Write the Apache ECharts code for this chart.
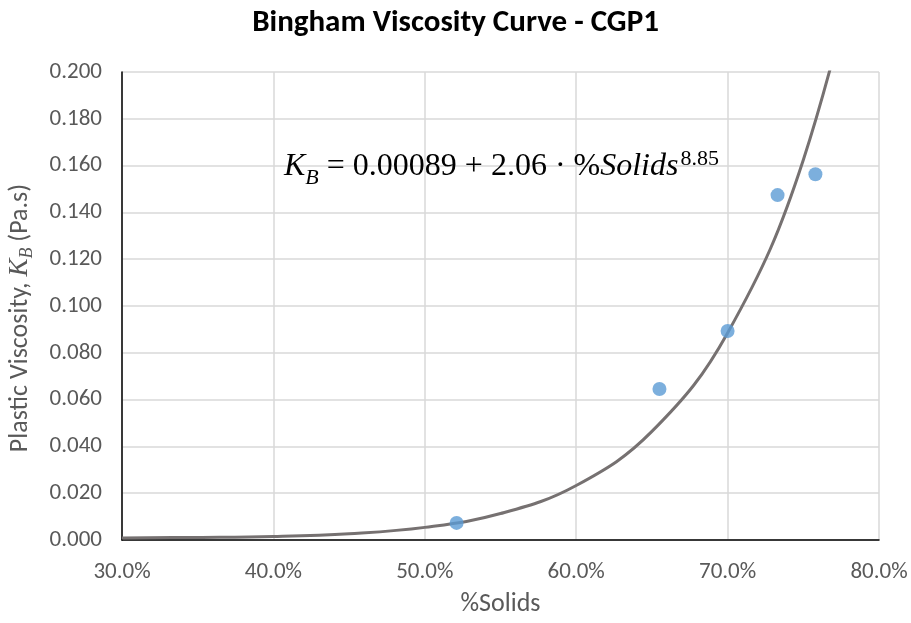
<!DOCTYPE html>
<html>
<head>
<meta charset="utf-8">
<script src="https://cdn.jsdelivr.net/npm/echarts@6/dist/echarts.min.js"></script>
<style>
  html, body { margin: 0; padding: 0; background: #ffffff; }
  #chart { width: 911px; height: 623px; }
</style>
</head>
<body>
<div id="chart"></div>
<script>
// Measured plastic viscosity against solids concentration
const sampleSolids = [52.1, 65.5, 70.0, 73.3, 75.8];
const sampleViscosity = [0.0073, 0.0645, 0.0893, 0.1474, 0.1563];

// Fitted power-law curve, read at 5% steps
const fitSolids = [30, 35, 40, 45, 50, 55, 60, 65, 70, 75, 80];
const fitViscosity = [0.0009, 0.0011, 0.0015, 0.0027, 0.0054, 0.0113, 0.0233, 0.0464, 0.0885, 0.1624, 0.287];

// Axis ranges and ticks
const xTicks = { min: 30, max: 80, interval: 10 };
const yTicks = { min: 0, max: 0.2, interval: 0.02 };

const uiFont = 'Carlito, Lato, "Open Sans", sans-serif';
const mathFont = '"Liberation Serif", "DejaVu Serif", serif';
const axisGrey = '#595959';

const chart = echarts.init(document.getElementById('chart'), null, { renderer: 'canvas' });

chart.setOption({
  backgroundColor: '#ffffff',
  animation: false,
  title: {
    text: 'Bingham Viscosity Curve - CGP1',
    left: 'center',
    top: 3,
    textStyle: { fontFamily: uiFont, fontWeight: 'bold', fontSize: 31, color: '#000000' }
  },
  grid: { left: 122, right: 32, top: 72, bottom: 83, containLabel: false, outerBoundsMode: 'none' },
  xAxis: {
    type: 'value',
    min: xTicks.min, max: xTicks.max, interval: xTicks.interval,
    name: '%Solids',
    nameLocation: 'middle',
    nameGap: 51,
    nameTextStyle: { fontFamily: uiFont, fontSize: 26, color: axisGrey },
    axisLine: { show: true, onZero: false, lineStyle: { color: '#000000', width: 1.5 } },
    axisTick: { show: false },
    axisLabel: {
      fontFamily: uiFont, fontSize: 23, color: axisGrey, margin: 21,
      formatter: v => v.toFixed(1) + '%'
    },
    splitLine: { show: true, lineStyle: { color: '#d9d9d9', width: 1.5 } }
  },
  yAxis: {
    type: 'value',
    min: yTicks.min, max: yTicks.max, interval: yTicks.interval,
    name: '{t|Plastic Viscosity, }{i|K}{s|B}{t| (Pa.s)}',
    nameLocation: 'middle',
    nameGap: 86,
    nameTextStyle: {
      fontFamily: uiFont, fontSize: 26, color: axisGrey,
      padding: [0, 24, 0, 0],
      rich: {
        t: { fontFamily: uiFont, fontSize: 26, color: axisGrey },
        i: { fontFamily: mathFont, fontStyle: 'italic', fontSize: 27, color: axisGrey },
        s: { fontFamily: mathFont, fontStyle: 'italic', fontSize: 18, color: axisGrey, padding: [14, 0, 0, 0] }
      }
    },
    axisLine: { show: true, lineStyle: { color: '#000000', width: 1.5 } },
    axisTick: { show: false },
    axisLabel: {
      fontFamily: uiFont, fontSize: 23, color: axisGrey, margin: 20,
      formatter: v => v.toFixed(3)
    },
    splitLine: { show: true, lineStyle: { color: '#d9d9d9', width: 1.5 } }
  },
  graphic: [{
    type: 'text',
    left: 284,
    top: 148,
    z: 10,
    style: {
      text: '{i|K}{s|B}{r| = 0.00089 + 2.06 · %}{i|Solids}{p|8.85}',
      fill: '#000000',
      rich: {
        i: { fontFamily: mathFont, fontStyle: 'italic', fontSize: 32, fill: '#000000' },
        r: { fontFamily: mathFont, fontSize: 32, fill: '#000000' },
        s: { fontFamily: mathFont, fontStyle: 'italic', fontSize: 22, fill: '#000000', padding: [23, 0, 0, 0] },
        p: { fontFamily: mathFont, fontSize: 22, fill: '#000000', padding: [0, 0, 16, 2] }
      }
    }
  }],
  series: [
    {
      name: 'Fit',
      type: 'line',
      data: fitSolids.map((x, i) => [x, fitViscosity[i]]),
      smooth: 0.4,
      symbol: 'none',
      clip: true,
      lineStyle: { color: '#767171', width: 3 },
      z: 2
    },
    {
      name: 'Measured',
      type: 'scatter',
      data: sampleSolids.map((x, i) => [x, sampleViscosity[i]]),
      symbol: 'circle',
      symbolSize: 14,
      itemStyle: { color: '#5b9bd5' },
      z: 3
    }
  ]
});
</script>
</body>
</html>
